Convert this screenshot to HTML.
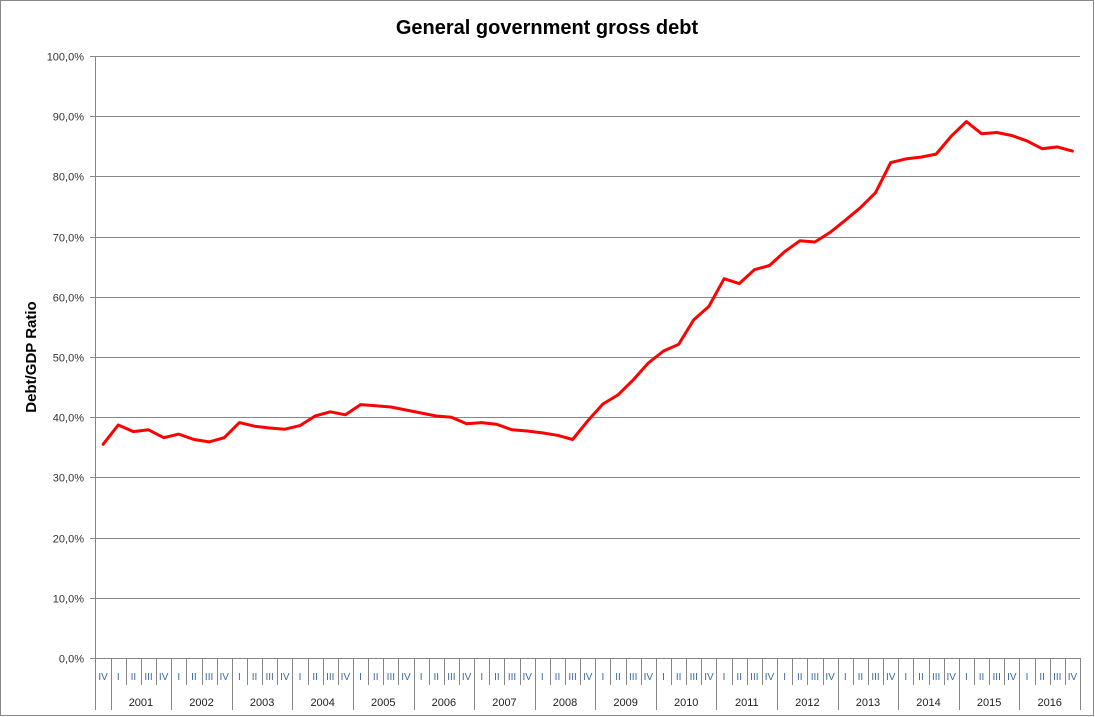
<!DOCTYPE html>
<html><head><meta charset="utf-8"><style>
html,body{margin:0;padding:0;background:#fff;}
svg{display:block;font-family:"Liberation Sans",Arial,sans-serif;}
</style></head><body>
<svg id="c" width="1095" height="717" xmlns="http://www.w3.org/2000/svg">
<rect x="0.5" y="0.5" width="1093" height="715" fill="#fff" stroke="#888" stroke-width="1"/>
<text x="547" y="34" text-anchor="middle" font-size="20" font-weight="bold" fill="#000">General government gross debt</text>
<text transform="translate(36,357) rotate(-90)" text-anchor="middle" font-size="15" font-weight="bold" fill="#000">Debt/GDP Ratio</text>
<g id="g"></g>
</svg>
<script>
var g=document.getElementById('g'),NS='http://www.w3.org/2000/svg';
function el(t,a,txt){var e=document.createElementNS(NS,t);for(var k in a)e.setAttribute(k,a[k]);if(txt!=null)e.textContent=txt;g.appendChild(e);return e;}
var X0=95.5,X1=1080,Y0=658,S=6.02;
for(var p=0;p<=100;p+=10){var y=Math.round(Y0-p*S)+0.5;
 el('line',{x1:X0,x2:X1,y1:y,y2:y,stroke:'#868686','stroke-width':1});
 el('line',{x1:90,x2:X0,y1:y,y2:y,stroke:'#868686','stroke-width':1});
 el('text',{x:84,y:y+4,'text-anchor':'end','font-size':11,fill:'#333'},p.toFixed(1).replace('.',',')+'%');}
el('line',{x1:X0,x2:X0,y1:56,y2:710,stroke:'#868686','stroke-width':1});
var n=65,w=(X1-X0)/n,q=['I','II','III','IV'];
for(var i=0;i<n;i++){var xr=X0+w*(i+1);var qi=(i+3)%4;
 var yr=(qi==3)?710:685;
 el('line',{x1:Math.round(xr)+0.5,x2:Math.round(xr)+0.5,y1:Y0,y2:yr,stroke:'#868686','stroke-width':1});
 el('text',{x:X0+w*(i+0.5),y:680,'text-anchor':'middle','font-size':10,fill:'#3b6a9a'},q[qi]);}
for(var yv=2001;yv<=2016;yv++){var i0=1+(yv-2001)*4;
 el('text',{x:X0+w*(i0+2),y:706,'text-anchor':'middle','font-size':11,fill:'#222'},String(yv));}
var d=[35.5,38.7,37.6,37.9,36.6,37.2,36.3,35.9,36.6,39.1,38.5,38.2,38.0,38.6,40.2,40.9,40.4,42.1,41.9,41.7,41.2,40.7,40.2,40.0,38.9,39.1,38.8,37.9,37.7,37.4,37.0,36.3,39.4,42.2,43.7,46.2,49.0,51.0,52.1,56.2,58.4,63.0,62.2,64.5,65.2,67.5,69.3,69.1,70.7,72.7,74.8,77.3,82.3,82.9,83.2,83.7,86.7,89.1,87.1,87.3,86.8,85.9,84.6,84.9,84.2];
var pts=d.map(function(v,i){return (X0+w*(i+0.5)).toFixed(1)+','+(Y0-v*S).toFixed(1);}).join(' ');
el('polyline',{points:pts,fill:'none',stroke:'#ff0000','stroke-width':3,'stroke-linejoin':'round','stroke-linecap':'round'});
</script>
</body></html>
